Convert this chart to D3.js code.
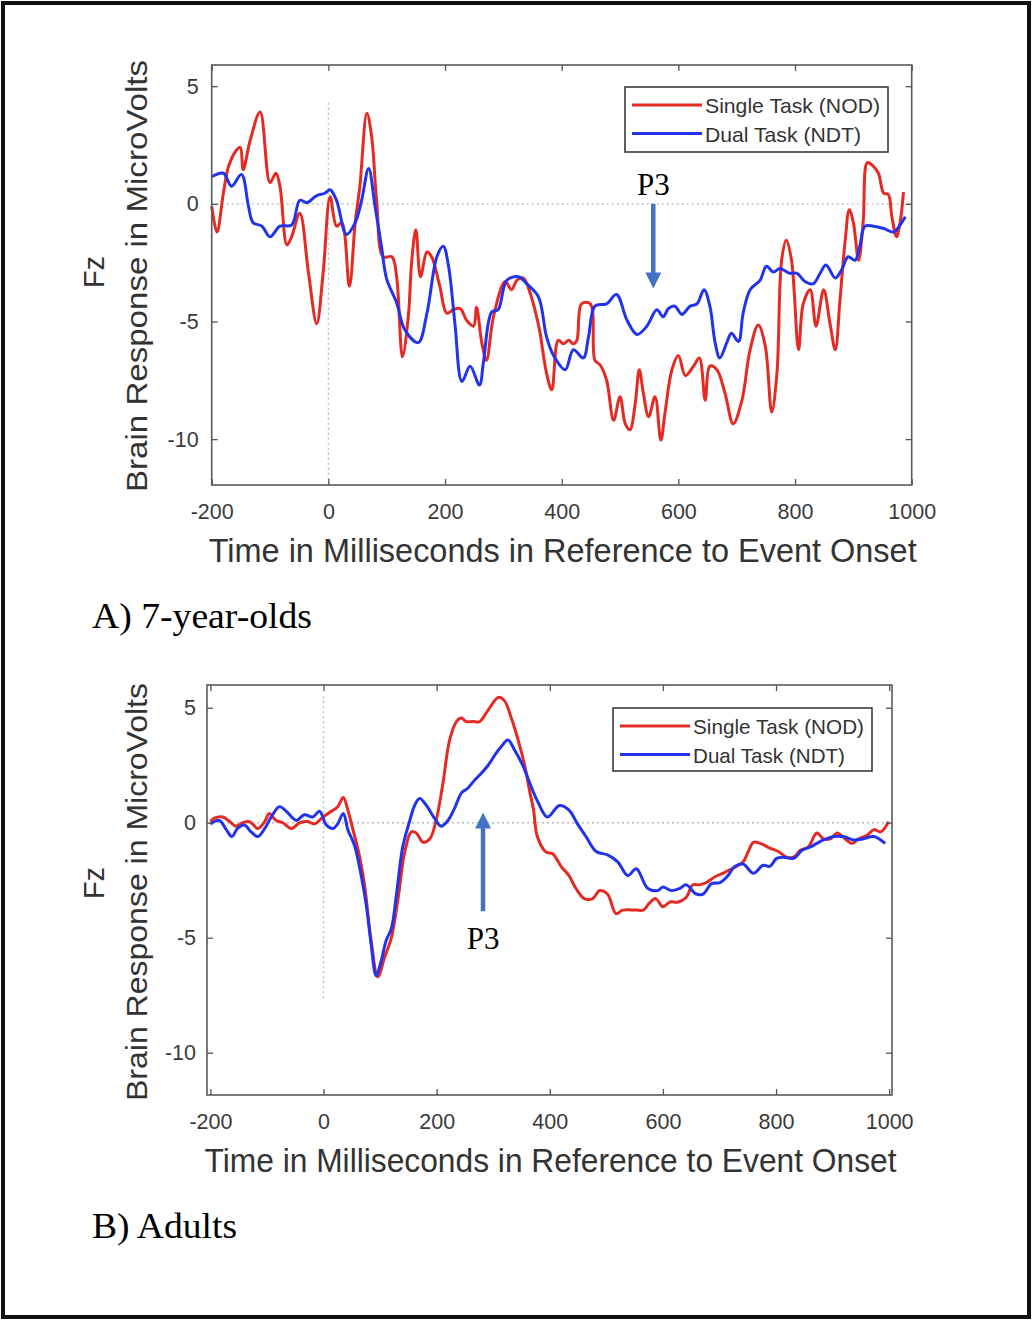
<!DOCTYPE html>
<html>
<head>
<meta charset="utf-8">
<script src="https://cdn.jsdelivr.net/npm/d3@7"></script>
<style>
  body { margin: 0; background: #fff; }
  svg text { font-family: "Liberation Sans", Arial, sans-serif; }
  svg .serif { font-family: "Liberation Serif", "Times New Roman", serif; }
</style>
</head>
<body>
<svg id="fig" width="1032" height="1320"></svg>
<script>

/********Data******/

const xTicks = [-200, 0, 200, 400, 600, 800, 1000];
const yTicks = [-10, -5, 0, 5];
const seriesNames = ["Single Task (NOD)", "Dual Task (NDT)"];
const panelTitles = ["A) 7-year-olds", "B) Adults"];
const xLabel = "Time in Milliseconds in Reference to Event Onset";
const yLabel = "Brain Response in MicroVolts";
const channel = "Fz";
const peakName = "P3";

// [time ms, microvolts]
const kidsSingle = [[-200,-0.1],[-191,-1.2],[-180,0.45],[-171,1.6],[-157,2.3],[-151,2.4],[-146,1.45],[-134,2.7],[-117,3.9],[-100,0.9],[-90,1.3],[-83,0.75],[-71,-1.75],[-63,-1.4],[-49,-0.4],[-34,-2.95],[-20,-5.1],[-9,-2.95],[3,0.3],[14,-0.95],[23,-0.8],[36,-3.5],[46,-0.8],[54,0.75],[66,3.85],[74,2.9],[83,0.05],[94,-2.25],[109,-2.25],[117,-3.1],[127,-6.5],[137,-4.8],[143,-2.4],[150,-1.1],[158,-3.1],[169,-2.05],[177,-2.25],[191,-3.5],[203,-4.65],[214,-4.5],[226,-4.45],[237,-4.95],[249,-5.2],[254,-4.4],[263,-5.9],[271,-6.65],[283,-4.8],[303,-3.3],[314,-3.65],[323,-3.25],[334,-3.15],[346,-3.8],[357,-4.8],[363,-5.5],[374,-7.2],[383,-7.9],[394,-5.8],[403,-5.95],[412,-5.8],[420,-5.95],[426,-5.8],[434,-4.25],[449,-4.25],[457,-6.65],[466,-6.85],[477,-7.5],[489,-9.2],[500,-8.2],[509,-9.35],[517,-9.6],[526,-8.5],[533,-7.05],[540,-8.05],[549,-9.05],[560,-8.2],[570,-10.05],[577,-8.9],[589,-7.05],[600,-6.45],[612,-7.3],[626,-6.9],[636,-6.55],[646,-8.35],[654,-6.9],[666,-7.05],[680,-8.05],[694,-9.35],[709,-8.35],[723,-6.2],[737,-5.15],[749,-6.05],[760,-8.85],[769,-7.2],[777,-2.4],[785,-1.55],[794,-2.4],[806,-6.2],[814,-4.25],[826,-3.65],[836,-5.2],[849,-3.65],[860,-5.1],[869,-6.2],[877,-4.1],[886,-1.55],[893,-0.25],[900,-0.8],[909,-2.4],[917,-0.7],[924,1.75],[934,1.6],[943,1.3],[952,0.45],[960,0.4],[966,-0.55],[974,-1.4],[980,-0.8],[986,0.5]];

const kidsDual = [[-200,1.15],[-180,1.3],[-166,0.75],[-149,1.25],[-137,-0.1],[-129,-0.8],[-114,-0.95],[-100,-1.4],[-83,-0.95],[-63,-0.9],[-49,0.15],[-37,0.05],[-20,0.35],[-6,0.45],[3,0.6],[14,0.15],[31,-1.3],[46,-0.8],[57,0.15],[69,1.5],[80,-0.1],[91,-1.8],[100,-3.2],[117,-4.2],[131,-5.35],[154,-5.9],[169,-4.65],[186,-2.25],[197,-1.8],[206,-2.65],[217,-5.1],[229,-7.55],[243,-6.9],[259,-7.7],[266,-6.7],[280,-4.6],[291,-4.5],[306,-3.25],[326,-3.1],[340,-3.4],[360,-3.95],[374,-5.65],[386,-6.45],[406,-7.05],[420,-6.2],[437,-6.55],[446,-5.65],[457,-4.35],[477,-4.25],[494,-3.85],[512,-4.95],[529,-5.55],[546,-5.2],[563,-4.5],[574,-4.8],[583,-4.45],[594,-4.35],[606,-4.7],[620,-4.35],[632,-4.25],[644,-3.65],[654,-4.35],[663,-5.9],[671,-6.55],[683,-5.9],[691,-5.5],[703,-5.85],[711,-4.65],[723,-3.65],[740,-3.25],[751,-2.65],[763,-2.9],[774,-2.75],[791,-2.95],[803,-2.95],[817,-3.3],[831,-3.4],[843,-2.95],[853,-2.6],[869,-3.15],[880,-2.8],[891,-2.25],[903,-2.4],[911,-1.8],[920,-0.95],[934,-0.95],[952,-1.05],[969,-1.2],[980,-0.9],[989,-0.55]];

const adultsSingle = [[-200,0.05],[-193,0.2],[-178,0.25],[-166,0.05],[-155,-0.15],[-143,0],[-131,0.05],[-116,-0.25],[-104,0.05],[-96,0.4],[-84,0.1],[-72,0],[-57,-0.25],[-42,0],[-28,0.05],[-16,-0.05],[-1,0.25],[14,0.5],[25,0.7],[35,1.1],[43,0.55],[52,-0.3],[64,-1.5],[73,-2.8],[84,-5.1],[96,-6.7],[108,-5.85],[120,-5],[132,-3.25],[143,-1.35],[155,-0.4],[164,-0.45],[176,-0.85],[188,-0.7],[199,0.1],[211,1.7],[223,3.6],[235,4.4],[244,4.55],[252,4.4],[264,4.4],[276,4.4],[291,4.9],[309,5.45],[320,5.3],[332,4.55],[344,3.6],[356,2.45],[365,1.3],[371,0.6],[378,-0.6],[393,-1.27],[405,-1.35],[420,-1.9],[434,-2.3],[446,-2.85],[461,-3.3],[476,-3.3],[488,-2.95],[502,-3.1],[517,-3.95],[529,-3.8],[553,-3.8],[565,-3.8],[576,-3.5],[587,-3.3],[600,-3.65],[612,-3.45],[627,-3.45],[641,-3.25],[653,-2.7],[665,-2.7],[677,-2.6],[692,-2.35],[706,-2.2],[718,-2.05],[730,-1.9],[742,-1.7],[751,-1.25],[760,-0.85],[772,-0.9],[789,-1.1],[804,-1.25],[819,-1.5],[831,-1.5],[843,-1.2],[857,-1.05],[872,-0.45],[884,-0.7],[896,-0.7],[908,-0.45],[922,-0.7],[934,-0.9],[946,-0.7],[961,-0.55],[973,-0.3],[985,-0.4],[999,0.05]];

const adultsDual = [[-200,-0.05],[-184,0.1],[-172,-0.3],[-162,-0.6],[-152,-0.25],[-140,-0.1],[-128,-0.4],[-116,-0.6],[-104,-0.25],[-90,0.35],[-78,0.7],[-66,0.5],[-48,0.1],[-34,0.35],[-19,0.25],[-7,0.5],[5,-0.1],[17,-0.25],[25,-0.05],[35,0.4],[43,-0.3],[55,-1],[67,-2.35],[76,-3.65],[84,-5.25],[93,-6.65],[102,-6],[111,-5.1],[120,-4.6],[129,-3.1],[140,-1.05],[152,0.05],[161,0.75],[170,1.05],[182,0.75],[196,0.2],[208,-0.15],[220,0.1],[232,0.65],[244,1.3],[255,1.5],[267,1.85],[279,2.15],[291,2.5],[303,2.95],[314,3.3],[326,3.6],[338,3.15],[353,2.45],[365,1.7],[379,0.9],[396,0.25],[417,0.75],[434,0.55],[449,-0.05],[464,-0.6],[482,-1.25],[502,-1.4],[520,-1.7],[538,-2.3],[553,-2],[573,-2.85],[591,-2.95],[600,-2.8],[615,-2.95],[630,-2.85],[641,-2.7],[659,-3.1],[671,-3.1],[686,-2.65],[701,-2.6],[715,-2.3],[727,-1.9],[742,-1.8],[760,-2.2],[777,-1.85],[789,-1.9],[801,-1.55],[813,-1.5],[831,-1.55],[846,-1.2],[861,-1.05],[872,-0.9],[884,-0.75],[902,-0.6],[919,-0.6],[937,-0.75],[955,-0.7],[973,-0.6],[993,-0.9]];

// vertical dotted onset line extent (microvolts)
const kidsOnsetSpan = [4.3, -12];
const adultsOnsetSpan = [5.5, -7.7];

// P3 arrow: [time, from, to]
const kidsP3Arrow = [557, 0, -3.6];
const adultsP3Arrow = [282, -3.85, 0.45];

const colors = ["#e52a23", "#2233ee"];
const arrowColor = "#4472c4";

/********Layout******/

const panels = [
    {
        title: panelTitles[0], series: [kidsSingle, kidsDual], onset: kidsOnsetSpan, arrow: kidsP3Arrow,
        left: 211.7, right: 911.7, top: 65, bottom: 485,
        xDomain: [-200, 1000], yDomain: [-11.95, 5.9],
        legend: {x: 625, y: 87, w: 263, h: 65, widths: [175, 156]},
        yPad: 13, xLabelY: 562, xLabelLen: 708, yLabelCy: 276, yLabelLen: 432, fzCy: 272,
        titleY: 628, titleLen: 220
    },
    {
        title: panelTitles[1], series: [adultsSingle, adultsDual], onset: adultsOnsetSpan, arrow: adultsP3Arrow,
        left: 207, right: 892, top: 685, bottom: 1095,
        xDomain: [-206, 1005], yDomain: [-11.84, 5.99],
        legend: {x: 613, y: 708, w: 259, h: 63, widths: [171, 152]},
        yPad: 11, xLabelY: 1172, xLabelLen: 692, yLabelCy: 892, yLabelLen: 418, fzCy: 883,
        titleY: 1238, titleLen: 145
    }
];

const svg = d3.select("#fig");

svg.append("rect")
    .attr("x", 3).attr("y", 3)
    .attr("width", 1026).attr("height", 1314)
    .attr("fill", "#fff")
    .attr("stroke", "#111")
    .attr("stroke-width", 4);

panels.forEach(drawPanel);

function drawPanel(p) {
    let x = d3.scaleLinear().domain(p.xDomain).range([p.left, p.right]);
    let y = d3.scaleLinear().domain(p.yDomain).range([p.bottom, p.top]);
    let g = svg.append("g");

    // dotted reference lines
    g.append("line")
        .attr("x1", p.left).attr("x2", p.right)
        .attr("y1", y(0)).attr("y2", y(0))
        .attr("stroke", "#b8b8b8").attr("stroke-width", 1.3)
        .attr("stroke-dasharray", "2,3");
    g.append("line")
        .attr("x1", x(0)).attr("x2", x(0))
        .attr("y1", y(p.onset[0])).attr("y2", y(Math.max(p.onset[1], p.yDomain[0])))
        .attr("stroke", "#b8b8b8").attr("stroke-width", 1.3)
        .attr("stroke-dasharray", "2,3");

    // curves
    let line = d3.line()
        .x(d => x(d[0]))
        .y(d => y(d[1]))
        .curve(d3.curveCatmullRom.alpha(0.5));
    p.series.forEach(function (s, i) {
        g.append("path")
            .datum(s)
            .attr("d", line)
            .attr("fill", "none")
            .attr("stroke", colors[i])
            .attr("stroke-width", 3)
            .attr("stroke-linejoin", "round");
    });

    // axes, MATLAB style ticks inside on every side
    let axes = [
        {ax: d3.axisBottom(x), t: "translate(0," + p.bottom + ")", vals: xTicks, lab: true},
        {ax: d3.axisTop(x), t: "translate(0," + p.top + ")", vals: xTicks, lab: false},
        {ax: d3.axisLeft(y), t: "translate(" + p.left + ",0)", vals: yTicks, lab: true},
        {ax: d3.axisRight(y), t: "translate(" + p.right + ",0)", vals: yTicks, lab: false}
    ];
    axes.forEach(function (a, k) {
        let pad = k === 0 ? 19 : p.yPad;
        let ag = g.append("g")
            .attr("transform", a.t)
            .call(a.ax.tickValues(a.vals).tickSizeInner(-6).tickSizeOuter(0)
                .tickPadding(pad).tickFormat(a.lab ? d3.format("d") : ""));
        ag.select(".domain").remove();
        ag.selectAll("line").attr("stroke", "#555").attr("stroke-width", 1.3);
        ag.selectAll("text")
            .attr("fill", "#3a3a3a")
            .attr("font-size", 21.5)
            .attr("font-family", "Liberation Sans, Arial, sans-serif")
            .text(d => a.lab ? String(d) : "");
    });

    g.append("rect")
        .attr("x", p.left).attr("y", p.top)
        .attr("width", p.right - p.left).attr("height", p.bottom - p.top)
        .attr("fill", "none")
        .attr("stroke", "#5a5a5a")
        .attr("stroke-width", 1.6);

    // legend
    let L = p.legend;
    let lg = g.append("g").attr("transform", "translate(" + L.x + "," + L.y + ")");
    lg.append("rect")
        .attr("width", L.w).attr("height", L.h)
        .attr("fill", "#fff").attr("stroke", "#3a3a3a").attr("stroke-width", 1.6);
    seriesNames.forEach(function (name, i) {
        let ly = 18 + i * 28.5;
        lg.append("line")
            .attr("x1", 7).attr("x2", 77)
            .attr("y1", ly).attr("y2", ly)
            .attr("stroke", colors[i]).attr("stroke-width", 3);
        lg.append("text")
            .attr("x", 80).attr("y", ly + 8)
            .attr("font-size", 21)
            .attr("fill", "#333")
            .attr("textLength", L.widths[i])
            .attr("lengthAdjust", "spacingAndGlyphs")
            .text(name);
    });

    // P3 arrow
    let ax0 = x(p.arrow[0]);
    let yFrom = y(p.arrow[1]), yTo = y(p.arrow[2]);
    let dir = yTo > yFrom ? 1 : -1;
    g.append("line")
        .attr("x1", ax0).attr("x2", ax0)
        .attr("y1", yFrom).attr("y2", yTo - dir * 14)
        .attr("stroke", arrowColor).attr("stroke-width", 4.5);
    g.append("path")
        .attr("d", "M" + (ax0 - 8) + "," + (yTo - dir * 16) + "L" + (ax0 + 8) + "," + (yTo - dir * 16) + "L" + ax0 + "," + yTo + "Z")
        .attr("fill", arrowColor);
    g.append("text")
        .attr("class", "serif")
        .attr("x", ax0)
        .attr("y", dir > 0 ? yFrom - 9 : yFrom + 38)
        .attr("text-anchor", "middle")
        .attr("font-size", 31)
        .attr("fill", "#000")
        .text(peakName);

    // axis titles
    g.append("text")
        .attr("x", (p.left + p.right) / 2 + 1)
        .attr("y", p.xLabelY)
        .attr("text-anchor", "middle")
        .attr("font-size", 33)
        .attr("fill", "#333")
        .attr("textLength", p.xLabelLen)
        .attr("lengthAdjust", "spacingAndGlyphs")
        .text(xLabel);

    g.append("text")
        .attr("transform", "translate(147," + p.yLabelCy + ") rotate(-90)")
        .attr("text-anchor", "middle")
        .attr("font-size", 30)
        .attr("fill", "#333")
        .attr("textLength", p.yLabelLen)
        .attr("lengthAdjust", "spacingAndGlyphs")
        .text(yLabel);

    g.append("text")
        .attr("transform", "translate(104," + p.fzCy + ") rotate(-90)")
        .attr("text-anchor", "middle")
        .attr("font-size", 29)
        .attr("fill", "#333")
        .text(channel);

    // panel caption
    g.append("text")
        .attr("class", "serif")
        .attr("x", 92)
        .attr("y", p.titleY)
        .attr("font-size", 35)
        .attr("fill", "#000")
        .attr("textLength", p.titleLen)
        .attr("lengthAdjust", "spacingAndGlyphs")
        .text(p.title);
}
</script>
</body>
</html>
